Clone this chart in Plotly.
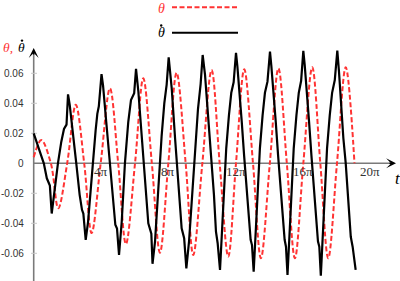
import plotly.graph_objects as go

# ---------------- data (t in units of pi) ----------------
theta_dot_t = [0.00, 0.30, 0.60, 0.78, 0.96, 1.07,
               1.25, 1.44, 1.64, 1.80, 1.95, 2.04,
               2.14, 2.34, 2.53, 2.73, 2.87, 2.95, 3.09,
               3.23, 3.40, 3.55, 3.68, 3.78, 3.87, 4.03,
               4.12, 4.31, 4.52, 4.71, 4.85, 4.95, 5.07,
               5.23, 5.42, 5.62, 5.78, 5.97, 6.08,
               6.22, 6.42, 6.54, 6.62, 6.81, 6.99, 7.06,
               7.21, 7.40, 7.50, 7.60, 7.76, 7.90, 8.02,
               8.10, 8.20, 8.40, 8.50, 8.62, 8.79, 8.94, 9.07,
               9.23, 9.43, 9.58, 9.76, 9.92, 10.04,
               10.18, 10.31, 10.47, 10.58, 10.71, 10.83, 10.93, 11.07,
               11.24, 11.34, 11.44, 11.60, 11.74, 11.88, 12.02,
               12.10, 12.22, 12.36, 12.50, 12.66, 12.79, 12.89, 12.97, 13.07,
               13.24, 13.34, 13.44, 13.60, 13.74, 13.89, 14.04,
               14.12, 14.24, 14.38, 14.52, 14.68, 14.81, 14.91, 14.99, 15.08,
               15.25, 15.35, 15.45, 15.61, 15.75, 15.89, 16.02,
               16.10, 16.22, 16.36, 16.50, 16.66, 16.79, 16.89, 16.97, 17.06,
               17.23, 17.33, 17.43, 17.59, 17.73, 17.89, 18.04,
               18.14, 18.26, 18.40, 18.54, 18.69, 18.84, 18.95, 19.13]
theta_dot_v = [0.020, 0.0105, 0.000, -0.010, -0.0148, -0.0335,
               -0.0167, 0.000, 0.0144, 0.0229, 0.0258, 0.046,
               0.039, 0.021, 0.000, -0.021, -0.031, -0.0335, -0.051,
               -0.039, -0.014, 0.004, 0.022, 0.033, 0.038, 0.0594,
               0.052, 0.0277, 0.000, -0.028, -0.041, -0.0435, -0.0611,
               -0.039, 0.000, 0.0277, 0.0422, 0.0467, 0.063,
               0.0477, 0.0167, 0.000, -0.0167, -0.040, -0.047, -0.067,
               -0.052, -0.0167, 0.000, 0.018, 0.040, 0.0525, 0.0707,
               0.063, 0.050, 0.0167, 0.000, -0.018, -0.0433, -0.050, -0.070,
               -0.052, -0.0167, 0.010, 0.036, 0.053, 0.0722,
               0.059, 0.039, 0.0144, 0.000, -0.021, -0.0456, -0.0533, -0.0711,
               -0.035, -0.012, 0.010, 0.032, 0.047, 0.054, 0.0737,
               0.065, 0.050, 0.028, 0.0055, -0.017, -0.039, -0.051, -0.0545, -0.0723,
               -0.035, -0.012, 0.010, 0.032, 0.047, 0.0544, 0.0744,
               0.065, 0.050, 0.028, 0.0055, -0.017, -0.039, -0.051, -0.0556, -0.0745,
               -0.036, -0.012, 0.010, 0.032, 0.047, 0.055, 0.0749,
               0.066, 0.050, 0.028, 0.0055, -0.017, -0.039, -0.052, -0.0556, -0.075,
               -0.036, -0.012, 0.010, 0.032, 0.047, 0.0555, 0.0751,
               0.061, 0.039, 0.0167, 0.000, -0.028, -0.049, -0.0556, -0.0711]

theta_t = [0.00, 0.45, 1.02, 1.46, 1.99, 2.50, 3.00, 3.44, 3.98, 4.53,
           5.02, 5.48, 6.02, 6.51, 7.02, 7.50, 8.00, 8.49, 9.03, 9.48,
           10.02, 10.57, 11.05, 11.56, 12.02, 12.51, 13.03, 13.50, 14.03, 14.54,
           15.04, 15.52, 16.02, 16.55, 17.03, 17.50, 18.02, 18.54, 19.06]
theta_v = [0.004, 0.0155, 0.0, -0.030, 0.0, 0.039, 0.0, -0.0465, 0.0, 0.050,
           0.0, -0.0538, 0.0, 0.0567, 0.0, -0.0596, 0.0, 0.0604, 0.0, -0.0611,
           0.0, 0.0622, 0.0, -0.0622, 0.0, 0.0627, 0.0, -0.0633, 0.0, 0.0633,
           0.0, -0.0633, 0.0, 0.064, 0.0, -0.0633, 0.0, 0.064, 0.0]

y_ticks = [0.06, 0.04, 0.02, 0, -0.02, -0.04, -0.06]
y_tick_labels = ["0.06", "0.04", "0.02", "0", "-0.02", "-0.04", "-0.06"]
x_ticks = [4, 8, 12, 16, 20]
x_tick_labels = ["4π", "8π", "12π", "16π", "20π"]

# ---------------- geometry ----------------
W, H = 400, 281
X0_PX, PX_PER_PI = 33.7, 16.83
Y0_PX, PX_PER_UNIT = 163.3, 1500.0


def tx(px):
    return (px - X0_PX) / PX_PER_PI


def vy(py):
    return (Y0_PX - py) / PX_PER_UNIT


def px_x(px):
    return px / W


def px_y(py):
    return 1 - py / H


RED = "#ff3333"
AXIS = "#7a7a7a"
SERIF = "Liberation Serif, Times New Roman, serif"

fig = go.Figure()
fig.add_trace(go.Scatter(x=theta_t, y=theta_v, mode="lines",
                         line=dict(color=RED, width=2, dash="5px,2.5px",
                                   shape="spline", smoothing=1),
                         hoverinfo="skip"))
fig.add_trace(go.Scatter(x=theta_dot_t, y=theta_dot_v, mode="lines",
                         line=dict(color="black", width=2.2),
                         hoverinfo="skip"))

shapes = []
shapes.append(dict(type="line", xref="x", yref="y", x0=0, x1=tx(390), y0=0, y1=0,
                   line=dict(color=AXIS, width=1.6), layer="below"))
shapes.append(dict(type="line", xref="x", yref="y", x0=0, x1=0, y0=vy(281), y1=vy(54),
                   line=dict(color=AXIS, width=1.6), layer="below"))
for v in y_ticks:
    if v != 0:
        shapes.append(dict(type="line", xref="x", yref="y", x0=tx(31), x1=tx(37),
                           y0=v, y1=v, line=dict(color="#c8c8c8", width=1), layer="below"))
shapes.append(dict(type="line", xref="paper", yref="paper", x0=px_x(172), x1=px_x(237),
                   y0=px_y(7.3), y1=px_y(7.3),
                   line=dict(color=RED, width=2, dash="5px,2.5px")))
shapes.append(dict(type="line", xref="paper", yref="paper", x0=px_x(172), x1=px_x(238),
                   y0=px_y(32.7), y1=px_y(32.7),
                   line=dict(color="black", width=2)))


def dot(cx, cy, r=1.2):
    shapes.append(dict(type="circle", xref="paper", yref="paper",
                       x0=px_x(cx - r), x1=px_x(cx + r), y0=px_y(cy + r), y1=px_y(cy - r),
                       fillcolor="black", line=dict(width=0)))


# the "dot" accents of theta-dot
dot(22.0, 40.6)
dot(161.2, 25.5)

annotations = []
annotations.append(dict(x=tx(396), y=0, ax=tx(388), ay=0, xref="x", yref="y",
                        axref="x", ayref="y", text="", showarrow=True,
                        arrowhead=3, arrowsize=1.1, arrowwidth=1.5, arrowcolor="black",
                        standoff=0))
annotations.append(dict(x=0, y=vy(48), ax=0, ay=vy(56), xref="x", yref="y",
                        axref="x", ayref="y", text="", showarrow=True,
                        arrowhead=3, arrowsize=1.1, arrowwidth=1.5, arrowcolor="black",
                        standoff=0))
for v, lab in zip(y_ticks, y_tick_labels):
    annotations.append(dict(x=tx(25.8), y=v, xref="x", yref="y", text=lab,
                            showarrow=False, xanchor="right", yanchor="middle",
                            font=dict(family="Liberation Sans, Arial", size=10, color="#333")))
for t, lab in zip(x_ticks, x_tick_labels):
    annotations.append(dict(x=t, y=vy(171), xref="x", yref="y", text=lab,
                            showarrow=False, xanchor="center", yanchor="middle",
                            font=dict(family=SERIF, size=13, color="#333")))


def txt(x, y, s, size, color, anchor="center"):
    annotations.append(dict(x=px_x(x), y=px_y(y), xref="paper", yref="paper",
                            text=s, showarrow=False, xanchor=anchor, yanchor="middle",
                            font=dict(family=SERIF, size=size, color=color)))


# axis titles
txt(397.5, 179, "<i>t</i>", 17, "black")
txt(0.5, 47.5, "<i>θ,</i>", 13.5, RED, anchor="left")
txt(21.5, 47.5, "<i>θ</i>", 13.5, "black")
# legend texts
txt(161, 8.2, "<i>θ</i>", 14, RED)
txt(161, 33, "<i>θ</i>", 14, "black")

fig.update_layout(
    width=W, height=H,
    margin=dict(l=0, r=0, t=0, b=0, pad=0),
    paper_bgcolor="white", plot_bgcolor="white",
    showlegend=False,
    xaxis=dict(range=[tx(0), tx(W)], visible=False, fixedrange=True),
    yaxis=dict(range=[vy(H), vy(0)], visible=False, fixedrange=True),
    shapes=shapes, annotations=annotations,
)

fig.write_html("out.html")
